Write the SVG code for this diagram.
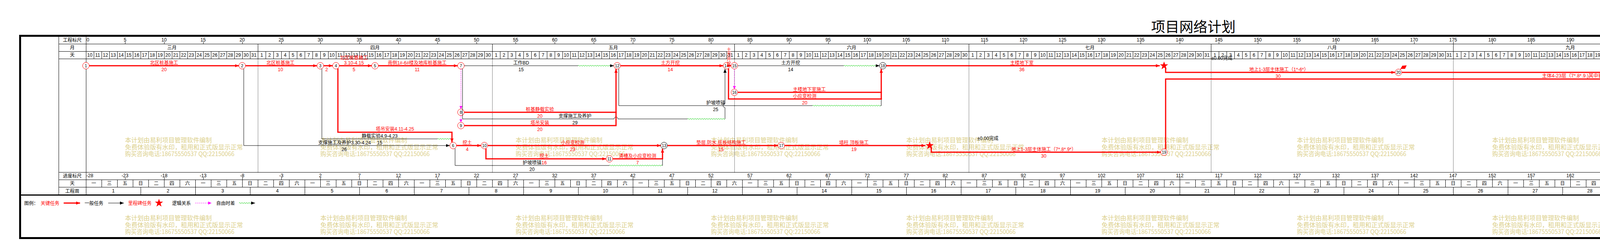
<svg xmlns="http://www.w3.org/2000/svg" xmlns:xlink="http://www.w3.org/1999/xlink" width="6327" height="616" viewBox="0 0 6327 616">
<style>
.t{font-family:"Liberation Sans","Noto Sans CJK SC",sans-serif;font-size:12px;text-anchor:middle;fill:#000}
.s{text-anchor:start}
.r{fill:#f00}
.crit{fill:none;stroke:#f00;stroke-width:3}
.norm{fill:none;stroke:#000;stroke-width:1}
.free{fill:none;stroke:#0c0;stroke-width:1}
.logic{fill:none;stroke:#f0f;stroke-width:1;stroke-dasharray:3,2}
.grid{fill:none;stroke:#000;stroke-width:1}
.mon{fill:none;stroke:#000;stroke-width:1;stroke-dasharray:1.5,1.5}
.nc{fill:#fff;stroke:#f00;stroke-width:1}
.nk{fill:#fff;stroke:#000;stroke-width:1}
.nt{font-family:"Liberation Sans",sans-serif;font-size:10.5px;text-anchor:middle;fill:#000}
.wm{font-family:"Noto Sans CJK SC",sans-serif;font-size:16px;fill:#dcd08c}
</style>
<defs>
<marker id="aR" viewBox="0 0 10 8" refX="10" refY="4" markerWidth="10" markerHeight="8" markerUnits="userSpaceOnUse" orient="auto"><path d="M0,0L10,4L0,8z" fill="#f00"/></marker>
<marker id="aK" viewBox="0 0 10 8" refX="10" refY="4" markerWidth="10" markerHeight="8" markerUnits="userSpaceOnUse" orient="auto"><path d="M0,0L10,4L0,8z" fill="#000"/></marker>
<marker id="aM" viewBox="0 0 8 8" refX="8" refY="4" markerWidth="8" markerHeight="8" markerUnits="userSpaceOnUse" orient="auto"><path d="M0,0L8,4L0,8z" fill="#f0f"/></marker>
<polygon id="star" points="0,-11 2.59,-3.56 10.46,-3.4 4.18,1.36 6.47,8.9 0,4.4 -6.47,8.9 -4.18,1.36 -10.46,-3.4 -2.59,-3.56" fill="#f00"/>
<pattern id="pT" x="220" y="0" width="100" height="616" patternUnits="userSpaceOnUse"><rect width="1" height="616"/></pattern>
<pattern id="pD" x="220" y="0" width="20" height="616" patternUnits="userSpaceOnUse"><rect width="1" height="616"/></pattern>
<pattern id="pW" x="220" y="0" width="40" height="616" patternUnits="userSpaceOnUse"><rect width="1" height="616"/></pattern>
<pattern id="pK" x="220" y="0" width="140" height="616" patternUnits="userSpaceOnUse"><rect width="1" height="616"/></pattern>
<g id="wm" class="wm">
<text x="0" y="0" textLength="222" lengthAdjust="spacingAndGlyphs">本计划由易利项目管理软件编制</text>
<text x="0" y="18" textLength="302" lengthAdjust="spacingAndGlyphs">免费体验版有水印，租用和正式版显示正常</text>
<text x="0" y="35" textLength="280" lengthAdjust="spacingAndGlyphs">购买咨询电话:18675550537 QQ:22150066</text>
</g>
</defs>
<rect width="6327" height="616" fill="#fff"/>
<text x="3055" y="82" style="font-family:'Noto Sans CJK SC',sans-serif;font-size:36px;text-anchor:middle">项目网络计划</text>

<g id="watermarks">
<use href="#wm" x="320" y="364"/><use href="#wm" x="820" y="364"/><use href="#wm" x="1320" y="364"/><use href="#wm" x="1820" y="364"/><use href="#wm" x="2320" y="364"/><use href="#wm" x="2820" y="364"/><use href="#wm" x="3320" y="364"/><use href="#wm" x="3820" y="364"/><use href="#wm" x="4320" y="364"/><use href="#wm" x="4820" y="364"/><use href="#wm" x="5320" y="364"/><use href="#wm" x="5820" y="364"/>
<use href="#wm" x="320" y="563"/><use href="#wm" x="820" y="563"/><use href="#wm" x="1320" y="563"/><use href="#wm" x="1820" y="563"/><use href="#wm" x="2320" y="563"/><use href="#wm" x="2820" y="563"/><use href="#wm" x="3320" y="563"/><use href="#wm" x="3820" y="563"/><use href="#wm" x="4320" y="563"/><use href="#wm" x="4820" y="563"/><use href="#wm" x="5320" y="563"/><use href="#wm" x="5820" y="563"/>
</g>

<g id="grid">
<rect x="51.5" y="91.5" width="6058" height="517" fill="none" stroke="#000" stroke-width="5"/>
<path class="grid" d="M150,112.5H6040M150,131.5H6040M150,150.5H6040M150,440.5H6040M150,459.5H6040M150,478.5H6040M150.5,94V497M220.5,94V497M6040.5,94V497"/>
<path class="grid" d="M660.5,112V131M1260.5,112V131M1880.5,112V131M2480.5,112V131M3100.5,112V131M3720.5,112V131M4320.5,112V131M4940.5,112V131M5540.5,112V131"/>
<path class="mon" d="M660.5,151V440M1260.5,151V440M1880.5,151V440M2480.5,151V440M3100.5,151V440M3720.5,151V440M4320.5,151V440M4940.5,151V440M5540.5,151V440"/>
<rect x="220" y="106.5" width="5820" height="5.5" fill="url(#pT)"/>
<rect x="220" y="453.5" width="5820" height="6" fill="url(#pT)"/>
<rect x="220" y="131" width="5820" height="19" fill="url(#pD)"/>
<rect x="220" y="459" width="5820" height="19" fill="url(#pW)"/>
<rect x="220" y="478" width="5820" height="20" fill="url(#pK)"/>
<path d="M51,498.5H6110" stroke="#000" stroke-width="3"/>
</g>

<g id="scale-text">
<text class="t" x="185" y="106.5">工程标尺</text>
<text class="t" x="185" y="126">月</text>
<text class="t" x="185" y="145">天</text>
<text class="t" x="185" y="454">进度标尺</text>
<text class="t" x="185" y="473">天</text>
<text class="t" x="185" y="492.5">工程周</text>
<text class="t" y="106"><tspan x="225">0</tspan><tspan x="320">5</tspan><tspan x="420">10</tspan><tspan x="520">15</tspan><tspan x="620">20</tspan><tspan x="720">25</tspan><tspan x="820">30</tspan><tspan x="920">35</tspan><tspan x="1020">40</tspan><tspan x="1120">45</tspan><tspan x="1220">50</tspan><tspan x="1320">55</tspan><tspan x="1420">60</tspan><tspan x="1520">65</tspan><tspan x="1620">70</tspan><tspan x="1720">75</tspan><tspan x="1820">80</tspan><tspan x="1920">85</tspan><tspan x="2020">90</tspan><tspan x="2120">95</tspan><tspan x="2220">100</tspan><tspan x="2320">105</tspan><tspan x="2420">110</tspan><tspan x="2520">115</tspan><tspan x="2620">120</tspan><tspan x="2720">125</tspan><tspan x="2820">130</tspan><tspan x="2920">135</tspan><tspan x="3020">140</tspan><tspan x="3120">145</tspan><tspan x="3220">150</tspan><tspan x="3320">155</tspan><tspan x="3420">160</tspan><tspan x="3520">165</tspan><tspan x="3620">170</tspan><tspan x="3720">175</tspan><tspan x="3820">180</tspan><tspan x="3920">185</tspan><tspan x="4020">190</tspan><tspan x="4120">195</tspan><tspan x="4220">200</tspan><tspan x="4320">205</tspan><tspan x="4420">210</tspan><tspan x="4520">215</tspan><tspan x="4620">220</tspan><tspan x="4720">225</tspan><tspan x="4820">230</tspan><tspan x="4920">235</tspan><tspan x="5020">240</tspan><tspan x="5120">245</tspan><tspan x="5220">250</tspan><tspan x="5320">255</tspan><tspan x="5420">260</tspan><tspan x="5520">265</tspan><tspan x="5620">270</tspan><tspan x="5720">275</tspan><tspan x="5820">280</tspan><tspan x="5920">285</tspan><tspan x="6019">290</tspan><tspan x="6043">291</tspan></text>
<text class="t" y="126"><tspan x="440">三月</tspan><tspan x="960">四月</tspan><tspan x="1570">五月</tspan><tspan x="2180">六月</tspan><tspan x="2790">七月</tspan><tspan x="3410">八月</tspan><tspan x="4020">九月</tspan><tspan x="4630">十月</tspan><tspan x="5240">十一月</tspan><tspan x="5790">十二月</tspan></text>
<text class="t" y="145"><tspan x="230">10</tspan><tspan x="250">11</tspan><tspan x="270">12</tspan><tspan x="290">13</tspan><tspan x="310">14</tspan><tspan x="330">15</tspan><tspan x="350">16</tspan><tspan x="370">17</tspan><tspan x="390">18</tspan><tspan x="410">19</tspan><tspan x="430">20</tspan><tspan x="450">21</tspan><tspan x="470">22</tspan><tspan x="490">23</tspan><tspan x="510">24</tspan><tspan x="530">25</tspan><tspan x="550">26</tspan><tspan x="570">27</tspan><tspan x="590">28</tspan><tspan x="610">29</tspan><tspan x="630">30</tspan><tspan x="650">31</tspan><tspan x="670">1</tspan><tspan x="690">2</tspan><tspan x="710">3</tspan><tspan x="730">4</tspan><tspan x="750">5</tspan><tspan x="770">6</tspan><tspan x="790">7</tspan><tspan x="810">8</tspan><tspan x="830">9</tspan><tspan x="850">10</tspan><tspan x="870">11</tspan><tspan x="890">12</tspan><tspan x="910">13</tspan><tspan x="930">14</tspan><tspan x="950">15</tspan><tspan x="970">16</tspan><tspan x="990">17</tspan><tspan x="1010">18</tspan><tspan x="1030">19</tspan><tspan x="1050">20</tspan><tspan x="1070">21</tspan><tspan x="1090">22</tspan><tspan x="1110">23</tspan><tspan x="1130">24</tspan><tspan x="1150">25</tspan><tspan x="1170">26</tspan><tspan x="1190">27</tspan><tspan x="1210">28</tspan><tspan x="1230">29</tspan><tspan x="1250">30</tspan><tspan x="1270">1</tspan><tspan x="1290">2</tspan><tspan x="1310">3</tspan><tspan x="1330">4</tspan><tspan x="1350">5</tspan><tspan x="1370">6</tspan><tspan x="1390">7</tspan><tspan x="1410">8</tspan><tspan x="1430">9</tspan><tspan x="1450">10</tspan><tspan x="1470">11</tspan><tspan x="1490">12</tspan><tspan x="1510">13</tspan><tspan x="1530">14</tspan><tspan x="1550">15</tspan><tspan x="1570">16</tspan><tspan x="1590">17</tspan><tspan x="1610">18</tspan><tspan x="1630">19</tspan><tspan x="1650">20</tspan><tspan x="1670">21</tspan><tspan x="1690">22</tspan><tspan x="1710">23</tspan><tspan x="1730">24</tspan><tspan x="1750">25</tspan><tspan x="1770">26</tspan><tspan x="1790">27</tspan><tspan x="1810">28</tspan><tspan x="1830">29</tspan><tspan x="1850">30</tspan><tspan x="1870">31</tspan><tspan x="1890">1</tspan><tspan x="1910">2</tspan><tspan x="1930">3</tspan><tspan x="1950">4</tspan><tspan x="1970">5</tspan><tspan x="1990">6</tspan><tspan x="2010">7</tspan><tspan x="2030">8</tspan><tspan x="2050">9</tspan><tspan x="2070">10</tspan><tspan x="2090">11</tspan><tspan x="2110">12</tspan><tspan x="2130">13</tspan><tspan x="2150">14</tspan><tspan x="2170">15</tspan><tspan x="2190">16</tspan><tspan x="2210">17</tspan><tspan x="2230">18</tspan><tspan x="2250">19</tspan><tspan x="2270">20</tspan><tspan x="2290">21</tspan><tspan x="2310">22</tspan><tspan x="2330">23</tspan><tspan x="2350">24</tspan><tspan x="2370">25</tspan><tspan x="2390">26</tspan><tspan x="2410">27</tspan><tspan x="2430">28</tspan><tspan x="2450">29</tspan><tspan x="2470">30</tspan><tspan x="2490">1</tspan><tspan x="2510">2</tspan><tspan x="2530">3</tspan><tspan x="2550">4</tspan><tspan x="2570">5</tspan><tspan x="2590">6</tspan><tspan x="2610">7</tspan><tspan x="2630">8</tspan><tspan x="2650">9</tspan><tspan x="2670">10</tspan><tspan x="2690">11</tspan><tspan x="2710">12</tspan><tspan x="2730">13</tspan><tspan x="2750">14</tspan><tspan x="2770">15</tspan><tspan x="2790">16</tspan><tspan x="2810">17</tspan><tspan x="2830">18</tspan><tspan x="2850">19</tspan><tspan x="2870">20</tspan><tspan x="2890">21</tspan><tspan x="2910">22</tspan><tspan x="2930">23</tspan><tspan x="2950">24</tspan><tspan x="2970">25</tspan><tspan x="2990">26</tspan><tspan x="3010">27</tspan><tspan x="3030">28</tspan><tspan x="3050">29</tspan><tspan x="3070">30</tspan><tspan x="3090">31</tspan><tspan x="3110">1</tspan><tspan x="3130">2</tspan><tspan x="3150">3</tspan><tspan x="3170">4</tspan><tspan x="3190">5</tspan><tspan x="3210">6</tspan><tspan x="3230">7</tspan><tspan x="3250">8</tspan><tspan x="3270">9</tspan><tspan x="3290">10</tspan><tspan x="3310">11</tspan><tspan x="3330">12</tspan><tspan x="3350">13</tspan><tspan x="3370">14</tspan><tspan x="3390">15</tspan><tspan x="3410">16</tspan><tspan x="3430">17</tspan><tspan x="3450">18</tspan><tspan x="3470">19</tspan><tspan x="3490">20</tspan><tspan x="3510">21</tspan><tspan x="3530">22</tspan><tspan x="3550">23</tspan><tspan x="3570">24</tspan><tspan x="3590">25</tspan><tspan x="3610">26</tspan><tspan x="3630">27</tspan><tspan x="3650">28</tspan><tspan x="3670">29</tspan><tspan x="3690">30</tspan><tspan x="3710">31</tspan><tspan x="3730">1</tspan><tspan x="3750">2</tspan><tspan x="3770">3</tspan><tspan x="3790">4</tspan><tspan x="3810">5</tspan><tspan x="3830">6</tspan><tspan x="3850">7</tspan><tspan x="3870">8</tspan><tspan x="3890">9</tspan><tspan x="3910">10</tspan><tspan x="3930">11</tspan><tspan x="3950">12</tspan><tspan x="3970">13</tspan><tspan x="3990">14</tspan><tspan x="4010">15</tspan><tspan x="4030">16</tspan><tspan x="4050">17</tspan><tspan x="4070">18</tspan><tspan x="4090">19</tspan><tspan x="4110">20</tspan><tspan x="4130">21</tspan><tspan x="4150">22</tspan><tspan x="4170">23</tspan><tspan x="4190">24</tspan><tspan x="4210">25</tspan><tspan x="4230">26</tspan><tspan x="4250">27</tspan><tspan x="4270">28</tspan><tspan x="4290">29</tspan><tspan x="4310">30</tspan><tspan x="4330">1</tspan><tspan x="4350">2</tspan><tspan x="4370">3</tspan><tspan x="4390">4</tspan><tspan x="4410">5</tspan><tspan x="4430">6</tspan><tspan x="4450">7</tspan><tspan x="4470">8</tspan><tspan x="4490">9</tspan><tspan x="4510">10</tspan><tspan x="4530">11</tspan><tspan x="4550">12</tspan><tspan x="4570">13</tspan><tspan x="4590">14</tspan><tspan x="4610">15</tspan><tspan x="4630">16</tspan><tspan x="4650">17</tspan><tspan x="4670">18</tspan><tspan x="4690">19</tspan><tspan x="4710">20</tspan><tspan x="4730">21</tspan><tspan x="4750">22</tspan><tspan x="4770">23</tspan><tspan x="4790">24</tspan><tspan x="4810">25</tspan><tspan x="4830">26</tspan><tspan x="4850">27</tspan><tspan x="4870">28</tspan><tspan x="4890">29</tspan><tspan x="4910">30</tspan><tspan x="4930">31</tspan><tspan x="4950">1</tspan><tspan x="4970">2</tspan><tspan x="4990">3</tspan><tspan x="5010">4</tspan><tspan x="5030">5</tspan><tspan x="5050">6</tspan><tspan x="5070">7</tspan><tspan x="5090">8</tspan><tspan x="5110">9</tspan><tspan x="5130">10</tspan><tspan x="5150">11</tspan><tspan x="5170">12</tspan><tspan x="5190">13</tspan><tspan x="5210">14</tspan><tspan x="5230">15</tspan><tspan x="5250">16</tspan><tspan x="5270">17</tspan><tspan x="5290">18</tspan><tspan x="5310">19</tspan><tspan x="5330">20</tspan><tspan x="5350">21</tspan><tspan x="5370">22</tspan><tspan x="5390">23</tspan><tspan x="5410">24</tspan><tspan x="5430">25</tspan><tspan x="5450">26</tspan><tspan x="5470">27</tspan><tspan x="5490">28</tspan><tspan x="5510">29</tspan><tspan x="5530">30</tspan><tspan x="5550">1</tspan><tspan x="5570">2</tspan><tspan x="5590">3</tspan><tspan x="5610">4</tspan><tspan x="5630">5</tspan><tspan x="5650">6</tspan><tspan x="5670">7</tspan><tspan x="5690">8</tspan><tspan x="5710">9</tspan><tspan x="5730">10</tspan><tspan x="5750">11</tspan><tspan x="5770">12</tspan><tspan x="5790">13</tspan><tspan x="5810">14</tspan><tspan x="5830">15</tspan><tspan x="5850">16</tspan><tspan x="5870">17</tspan><tspan x="5890">18</tspan><tspan x="5910">19</tspan><tspan x="5930">20</tspan><tspan x="5950">21</tspan><tspan x="5970">22</tspan><tspan x="5990">23</tspan><tspan x="6010">24</tspan><tspan x="6030">25</tspan></text>
<text class="t" y="453"><tspan x="230">-28</tspan><tspan x="320">-23</tspan><tspan x="420">-18</tspan><tspan x="520">-13</tspan><tspan x="620">-8</tspan><tspan x="720">-3</tspan><tspan x="820">2</tspan><tspan x="920">7</tspan><tspan x="1020">12</tspan><tspan x="1120">17</tspan><tspan x="1220">22</tspan><tspan x="1320">27</tspan><tspan x="1420">32</tspan><tspan x="1520">37</tspan><tspan x="1620">42</tspan><tspan x="1720">47</tspan><tspan x="1820">52</tspan><tspan x="1920">57</tspan><tspan x="2020">62</tspan><tspan x="2120">67</tspan><tspan x="2220">72</tspan><tspan x="2320">77</tspan><tspan x="2420">82</tspan><tspan x="2520">87</tspan><tspan x="2620">92</tspan><tspan x="2720">97</tspan><tspan x="2820">102</tspan><tspan x="2920">107</tspan><tspan x="3020">112</tspan><tspan x="3120">117</tspan><tspan x="3220">122</tspan><tspan x="3320">127</tspan><tspan x="3420">132</tspan><tspan x="3520">137</tspan><tspan x="3620">142</tspan><tspan x="3720">147</tspan><tspan x="3820">152</tspan><tspan x="3920">157</tspan><tspan x="4020">162</tspan><tspan x="4120">167</tspan><tspan x="4220">172</tspan><tspan x="4320">177</tspan><tspan x="4420">182</tspan><tspan x="4520">187</tspan><tspan x="4620">192</tspan><tspan x="4720">197</tspan><tspan x="4820">202</tspan><tspan x="4920">207</tspan><tspan x="5020">212</tspan><tspan x="5120">217</tspan><tspan x="5220">222</tspan><tspan x="5320">227</tspan><tspan x="5420">232</tspan><tspan x="5520">237</tspan><tspan x="5620">242</tspan><tspan x="5720">247</tspan><tspan x="5820">252</tspan><tspan x="5920">257</tspan><tspan x="6019">262</tspan><tspan x="6043">263</tspan></text>
<text class="t" y="473" x="240 280 320 360 400 440 480 520 560 600 640 680 720 760 800 840 880 920 960 1000 1040 1080 1120 1160 1200 1240 1280 1320 1360 1400 1440 1480 1520 1560 1600 1640 1680 1720 1760 1800 1840 1880 1920 1960 2000 2040 2080 2120 2160 2200 2240 2280 2320 2360 2400 2440 2480 2520 2560 2600 2640 2680 2720 2760 2800 2840 2880 2920 2960 3000 3040 3080 3120 3160 3200 3240 3280 3320 3360 3400 3440 3480 3520 3560 3600 3640 3680 3720 3760 3800 3840 3880 3920 3960 4000 4040 4080 4120 4160 4200 4240 4280 4320 4360 4400 4440 4480 4520 4560 4600 4640 4680 4720 4760 4800 4840 4880 4920 4960 5000 5040 5080 5120 5160 5200 5240 5280 5320 5360 5400 5440 5480 5520 5560 5600 5640 5680 5720 5760 5800 5840 5880 5920 5960 6000 6030">一三五日二四六一三五日二四六一三五日二四六一三五日二四六一三五日二四六一三五日二四六一三五日二四六一三五日二四六一三五日二四六一三五日二四六一三五日二四六一三五日二四六一三五日二四六一三五日二四六一三五日二四六一三五日二四六一三五日二四六一三五日二四六一三五日二四六一三五日二四六一三五日二四</text>
<text class="t" y="491.5"><tspan x="290">1</tspan><tspan x="430">2</tspan><tspan x="570">3</tspan><tspan x="710">4</tspan><tspan x="850">5</tspan><tspan x="990">6</tspan><tspan x="1130">7</tspan><tspan x="1270">8</tspan><tspan x="1410">9</tspan><tspan x="1550">10</tspan><tspan x="1690">11</tspan><tspan x="1830">12</tspan><tspan x="1970">13</tspan><tspan x="2110">14</tspan><tspan x="2250">15</tspan><tspan x="2390">16</tspan><tspan x="2530">17</tspan><tspan x="2670">18</tspan><tspan x="2810">19</tspan><tspan x="2950">20</tspan><tspan x="3090">21</tspan><tspan x="3230">22</tspan><tspan x="3370">23</tspan><tspan x="3510">24</tspan><tspan x="3650">25</tspan><tspan x="3790">26</tspan><tspan x="3930">27</tspan><tspan x="4070">28</tspan><tspan x="4210">29</tspan><tspan x="4350">30</tspan><tspan x="4490">31</tspan><tspan x="4630">32</tspan><tspan x="4770">33</tspan><tspan x="4910">34</tspan><tspan x="5050">35</tspan><tspan x="5190">36</tspan><tspan x="5330">37</tspan><tspan x="5470">38</tspan><tspan x="5610">39</tspan><tspan x="5750">40</tspan><tspan x="5890">41</tspan><tspan x="6000">42</tspan></text>
</g>

<g id="nodes">
<g id="node1"><circle class="nc" cx="220" cy="168" r="8.5"/><text class="nt" x="220" y="172">1</text></g>
<g id="node2"><circle class="nc" cx="620" cy="168" r="8.5"/><text class="nt" x="620" y="172">2</text></g>
<g id="node3"><circle class="nc" cx="820" cy="168" r="8.5"/><text class="nt" x="820" y="172">3</text></g>
<g id="node4"><circle class="nc" cx="860" cy="168" r="8.5"/><text class="nt" x="860" y="172">4</text></g>
<g id="node5"><circle class="nc" cx="960" cy="168" r="8.5"/><text class="nt" x="960" y="172">5</text></g>
<g id="node6"><circle class="nc" cx="1160" cy="372" r="8.5"/><text class="nt" x="1160" y="376">6</text></g>
<g id="node7"><circle class="nc" cx="1180" cy="168" r="8.5"/><text class="nt" x="1180" y="172">7</text></g>
<g id="node8"><circle class="nc" cx="1180" cy="287" r="8.5"/><text class="nt" x="1180" y="291">8</text></g>
<g id="node9"><circle class="nc" cx="1180" cy="321" r="8.5"/><text class="nt" x="1180" y="325">9</text></g>
<g id="node10"><circle class="nc" cx="1240" cy="372" r="8.5"/><text class="nt" x="1240" y="376">10</text></g>
<g id="node11"><circle class="nc" cx="1560" cy="406" r="8.5"/><text class="nt" x="1560" y="410">11</text></g>
<g id="node12"><circle class="nc" cx="1580" cy="168" r="8.5"/><text class="nt" x="1580" y="172">12</text></g>
<g id="node13"><circle class="nk" cx="1700" cy="372" r="8.5"/><text class="nt" x="1700" y="376">13</text></g>
<g id="node14"><circle class="nc" cx="1860" cy="168" r="8.5"/><text class="nt" x="1860" y="172">14</text></g>
<g id="node15"><circle class="nc" cx="1880" cy="168" r="8.5"/><text class="nt" x="1880" y="172">15</text></g>
<g id="node16"><circle class="nc" cx="1880" cy="236" r="8.5"/><text class="nt" x="1880" y="240">16</text></g>
<g id="node17"><circle class="nc" cx="2000" cy="372" r="8.5"/><text class="nt" x="2000" y="376">17</text></g>
<g id="node18"><circle class="nk" cx="2260" cy="168" r="8.5"/><text class="nt" x="2260" y="172">18</text></g>
<g id="node19"><circle class="nc" cx="2980" cy="389" r="8.5"/><text class="nt" x="2980" y="393">19</text></g>
<g id="node20"><circle class="nc" cx="3580" cy="185" r="8.5"/><text class="nt" x="3580" y="189">20</text><path d="M3585,178L3591,168" stroke="#f00" stroke-width="1.5"/><polygon points="3590,168 3601,167 3597,176 3586,176" fill="#f00"/></g>
<g id="ms1"><use href="#star" x="2380" y="372"/></g>
<g id="ms2"><use href="#star" x="2980" y="168"/></g>
<g id="ms3"><use href="#star" x="5440" y="202"/></g>
<g id="ms4"><use href="#star" x="6040" y="219"/></g>
</g>

<g id="connectors">
<path class="crit" marker-end="url(#aR)" d="M228.5,168H611.5"/>
<path class="crit" marker-end="url(#aR)" d="M628.5,168H811.5"/>
<path class="crit" marker-end="url(#aR)" d="M828.5,168H851.5"/>
<path class="crit" marker-end="url(#aR)" d="M868.5,168H951.5"/>
<path class="crit" marker-end="url(#aR)" d="M968.5,168H1171.5"/>
<path class="norm" d="M1188.5,168H1480"/>
<path class="free" d="M1480,168q1.5,-2.5 3,0t3,0t3,0t3,0t3,0t3,0t3,0t3,0t3,0t3,0t3,0t3,0t3,0t3,0t3,0t3,0t3,0t3,0t3,0t3,0t3,0t3,0t3,0t3,0t3,0t3,0t3,0"/>
<path class="norm" marker-end="url(#aK)" d="M1561,168H1571.5"/>
<path class="crit" marker-end="url(#aR)" d="M1588.5,168H1851.5"/>
<path class="crit" marker-end="url(#aR)" d="M1862,168H1871.5"/>
<path class="norm" d="M1888.5,168H2160"/>
<path class="free" d="M2160,168q1.5,-2.5 3,0t3,0t3,0t3,0t3,0t3,0t3,0t3,0t3,0t3,0t3,0t3,0t3,0t3,0t3,0t3,0t3,0t3,0t3,0t3,0t3,0t3,0t3,0t3,0t3,0t3,0t3,0t3,0"/>
<path class="norm" marker-end="url(#aK)" d="M2244,168H2251.5"/>
<path class="crit" marker-end="url(#aR)" d="M2268.5,168H2969"/>
<path class="logic" marker-end="url(#aM)" d="M1180,176.5V278.5"/>
<path class="logic" marker-end="url(#aM)" d="M1180,295.5V312.5"/>
<path class="logic" marker-end="url(#aM)" d="M1880,176.5V227.5"/>
<path class="norm" d="M1184,175.5V304H1572a5,5 0 0 1 10,0H1760"/>
<path class="free" d="M1760,304q1.5,-2.5 3,0t3,0t3,0t3,0t3,0t3,0t3,0t3,0t3,0t3,0t3,0t3,0t3,0t3,0t3,0t3,0t3,0t3,0t3,0t3,0t3,0t3,0t3,0t3,0t3,0t3,0t3,0t3,0t3,0t3,0t3,0t3,0"/>
<path class="norm" marker-end="url(#aK)" d="M1856,304V275a5,5 0 0 1 0,-10V176"/>
<path class="crit" d="M1188.5,287H1578.5"/>
<path class="crit" marker-end="url(#aR)" d="M1188.5,321H1577V176"/>
<path class="norm" d="M1584,175.5V270H2080"/>
<path class="free" d="M2080,270q1.5,-2.5 3,0t3,0t3,0t3,0t3,0t3,0t3,0t3,0t3,0t3,0t3,0t3,0t3,0t3,0t3,0t3,0t3,0t3,0t3,0t3,0t3,0t3,0t3,0t3,0t3,0t3,0t3,0t3,0t3,0t3,0t3,0t3,0t3,0t3,0t3,0t3,0t3,0t3,0t3,0t3,0t3,0t3,0t3,0t3,0t3,0t3,0t3,0t3,0t3,0t3,0t3,0t3,0t3,0t3,0t3,0t3,0t3,0t3,0"/>
<path class="norm" d="M2254,270H2256V253"/>
<path class="crit" d="M1865,175V253H2257.5"/>
<path class="crit" d="M1888.5,236H2257.5"/>
<path class="crit" marker-end="url(#aR)" d="M2256,254.5V176"/>
<path class="norm" marker-end="url(#aK)" d="M624,175.5V372H1151.5"/>
<path class="norm" d="M824,175.5V355H1120"/>
<path class="free" d="M1120,355q1.5,-2.5 3,0t3,0t3,0t3,0t3,0t3,0t3,0t3,0t3,0t3,0t3,0"/>
<path class="crit" marker-end="url(#aR)" d="M865,175V338H1157V364"/>
<path class="crit" marker-end="url(#aR)" d="M1168.5,372H1231.5"/>
<path class="crit" marker-end="url(#aR)" d="M1248.5,372H1691.5"/>
<path class="crit" marker-end="url(#aR)" d="M1244,379.5V406H1551.5"/>
<path class="norm" d="M1165,379.5V423H1560"/>
<path class="free" d="M1560,423q1.5,-2.5 3,0t3,0t3,0t3,0t3,0t3,0t3,0t3,0t3,0t3,0t3,0t3,0t3,0t3,0t3,0t3,0t3,0t3,0t3,0t3,0t3,0t3,0t3,0t3,0t3,0t3,0t3,0t3,0t3,0t3,0t3,0t3,0t3,0t3,0t3,0t3,0t3,0t3,0t3,0t3,0t3,0t3,0t3,0t3,0t3,0"/>
<path class="norm" d="M1695,423H1696V406"/>
<path class="crit" marker-end="url(#aR)" d="M1568.5,406H1696V380"/>
<path class="crit" marker-end="url(#aR)" d="M1708.5,372H1991.5"/>
<path class="crit" marker-end="url(#aR)" d="M2008.5,372H2369"/>
<path class="crit" marker-end="url(#aR)" d="M2384,377V389H2971.5"/>
<path class="crit" marker-end="url(#aR)" d="M2984,173V185H3571.5"/>
<path class="crit" marker-end="url(#aR)" d="M2984,381V202H5429"/>
<path class="crit" marker-end="url(#aR)" d="M3588.5,185H5436V194"/>
<path class="crit" marker-end="url(#aR)" d="M5445,207V219H6029"/>
</g>

<g id="labels">
<text class="t r" x="420" y="164.5">北区桩基施工</text><text class="t r" x="420" y="182">20</text>
<text class="t r" x="718" y="164.5">北区桩基施工</text><text class="t r" x="718" y="182">10</text>
<text class="t r" x="836" y="182">2</text>
<text class="t r" x="906" y="152">北区桩基施工</text><text class="t r" x="906" y="164.5">3.10-4.15</text><text class="t r" x="906" y="182">5</text>
<text class="t r" x="1068" y="164.5">南侧1#-6#楼及地库桩基施工</text><text class="t r" x="1068" y="182">11</text>
<text class="t" x="1334" y="164.5">工作BD</text><text class="t" x="1334" y="182">15</text>
<text class="t r" x="1716" y="164.5">土方开挖</text><text class="t r" x="1716" y="182">14</text>
<text class="t r" style="font-size:11px"><tspan x="1866" y="130.5">土</tspan><tspan x="1866" y="142.5">方</tspan><tspan x="1866" y="154.5">开</tspan><tspan x="1866" y="166.5">挖</tspan></text>
<text class="t" x="2024" y="164.5">土方开挖</text><text class="t" x="2024" y="182">14</text>
<text class="t r" x="2616" y="164.5">主楼地下室</text><text class="t r" x="2616" y="182">36</text>
<text class="t s" x="3101" y="153">±0.00完成</text>
<text class="t r" x="3274" y="181.5">地上1-3层主体施工（1*-6*）</text><text class="t r" x="3272" y="199">30</text>
<text class="t r" x="4511" y="181.5" textLength="551" lengthAdjust="spacingAndGlyphs">主体4-23层（1*.2*.3*.5*.6*.)其中影响因素（外架.塔吊顶撑及台风.下雨.夜间扰民因素）实为5天一层</text><text class="t r" x="4511" y="199">93</text>
<text class="t r" x="4202" y="198" textLength="509" lengthAdjust="spacingAndGlyphs">主体4-23层（7*.8*.9.)其中影响因素（外架.塔吊顶撑及台风.下雨.夜间扰民因素）实为5天一层</text><text class="t r" x="4202" y="216">123</text>
<text class="t s" x="5561" y="186">结构封顶</text>
<text class="t r" x="5734" y="214">工作BF</text><text class="t r" x="5734" y="232">30</text>
<text class="t r s" x="6160" y="202">结构封顶</text>
<text class="t r" x="2072" y="232.5">主楼地下室施工</text>
<text class="t r" x="2060" y="249.5">小应变检测</text><text class="t r" x="2060" y="267">20</text>
<text class="t" x="1832" y="266.5">护坡喷锚</text><text class="t" x="1832" y="284">25</text>
<text class="t r" x="1382" y="283.5">桩基静载实验</text><text class="t r" x="1382" y="301">20</text>
<text class="t" x="1472" y="300.5">支撑施工及养护</text><text class="t" x="1472" y="318">29</text>
<text class="t r" x="1382" y="317.5">塔吊安装</text><text class="t r" x="1382" y="335">20</text>
<text class="t r" x="1011" y="334">塔吊安装4.11-4.25</text>
<text class="t" x="972" y="351.5">静载实验4.9-4.23</text><text class="t" x="972" y="369">15</text>
<text class="t" x="882" y="368.5">支撑施工及养护3.30-4.24</text><text class="t" x="881" y="386">26</text>
<text class="t r" x="1196" y="368.5">挖土</text><text class="t r" x="1196" y="386">4</text>
<text class="t r" x="1466" y="368.5">小应变检测</text><text class="t r" x="1466" y="386">23</text>
<text class="t r" x="1846" y="368.5">垫层.防水.底板结构施工</text><text class="t r" x="1846" y="386">15</text>
<text class="t r" x="2186" y="368.5">墙柱.顶板施工</text><text class="t r" x="2186" y="386">19</text>
<text class="t s" x="2502" y="357.5">±0.00完成</text>
<text class="t r" x="2672" y="385.5">地上1-3层主体施工（7*.8*.9*）</text><text class="t r" x="2672" y="403">30</text>
<text class="t r" x="1393" y="402.5">挖土</text><text class="t r" x="1393" y="420">16</text>
<text class="t r" x="1632" y="402.5">清槽及小应变检测</text><text class="t r" x="1632" y="420">7</text>
<text class="t" x="1362" y="419.5">护坡喷锚</text><text class="t" x="1362" y="437">20</text>
</g>

<g id="legend">
<text class="t s" x="62" y="523.5">图例：</text>
<text class="t r s" x="104" y="523.5">关键任务</text>
<path class="crit" marker-end="url(#aR)" d="M163,519H205"/>
<text class="t s" x="216.5" y="523.5">一般任务</text>
<path class="norm" marker-end="url(#aK)" d="M277,519H317"/>
<text class="t r s" x="328" y="523.5">里程碑任务</text>
<use href="#star" x="407" y="519"/>
<text class="t s" x="440.5" y="523.5">逻辑关系</text>
<path class="logic" marker-end="url(#aM)" d="M500,519H541"/>
<text class="t s" x="553.5" y="523.5">自由时差</text>
<path class="free" d="M612,519q1.5,-2.5 3,0t3,0t3,0t3,0t3,0t3,0t3,0t3,0t3,0t3,0"/>
<path class="norm" marker-end="url(#aK)" d="M642,519H653"/>
</g>

<g id="titleblock">
<path d="M5810,498V608" stroke="#000" stroke-width="2.5"/>
<path class="grid" d="M5810,516.5H6108M5810,534.5H6108M5810,552.5H6108M5810,570.5H6108M5810,588.5H6108M5870.5,516.5V588.5M5960.5,516.5V608M6020.5,516.5V588.5"/>
<text class="t" x="5960" y="511">龙湾城市中心区D-03地块一级计划</text>
<text class="t" x="5840" y="530">编制人</text><text class="t" x="5990" y="530">负责人</text>
<text class="t" x="5840" y="548">绘图人</text><text class="t" x="5990" y="548">开始时间</text><text class="t" x="6064" y="548" textLength="83" lengthAdjust="spacingAndGlyphs">2014年03月10日</text>
<text class="t" x="5840" y="566">审核人</text><text class="t" x="5990" y="566">结束时间</text><text class="t" x="6064" y="566" textLength="83" lengthAdjust="spacingAndGlyphs">2014年12月25日</text>
<text class="t" x="5840" y="584">校对人</text><text class="t" x="5990" y="584">工期</text><text class="t" x="6064" y="584">291天</text>
<text class="t" x="6035" y="603">2014-04-07</text>
</g>
</svg>
